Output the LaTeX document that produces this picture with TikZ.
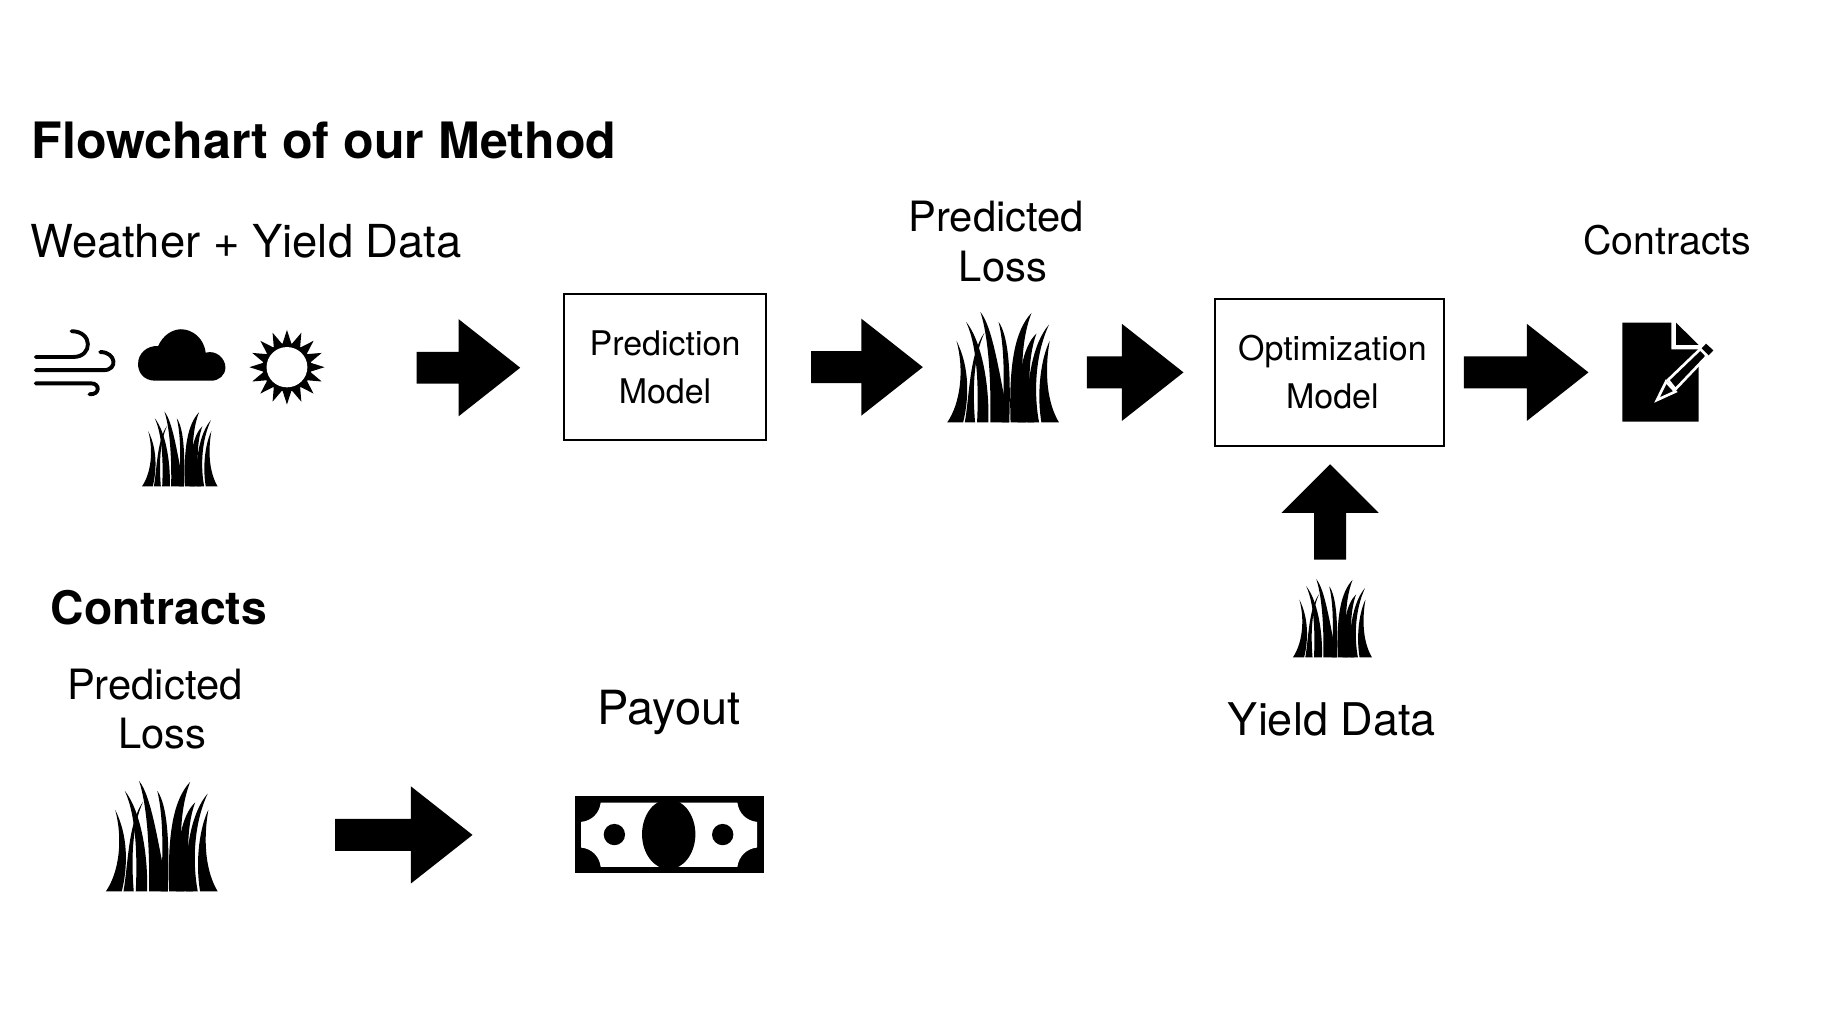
\documentclass[tikz,border=0pt]{standalone}
\usepackage{fontspec}
\setmainfont{TeX Gyre Heros}
\usepackage{tikz}
\usetikzlibrary{shapes.arrows}
\tikzstyle{bigarrow} = [single arrow,fill=black,inner sep=0pt,outer sep=0pt,anchor=tail,text height=.26cm,text depth=0pt,text width=0pt,minimum width=.82cm,single arrow head extend=.28cm,single arrow tip angle=76.5]
\tikzstyle{modelbox} = [draw=black,line width=.45pt,align=center,inner sep=0pt,font=\fontsize{8.3}{11.7}\selectfont]
\tikzstyle{label} = [anchor=base,inner sep=0pt]
\tikzset{
	pics/grass/.style={code={
		\fill (0,0) .. controls (40,-58) and (52,-158) .. (28,-246) .. controls (67,-168) and (67,-78) .. (48,0) -- cycle;
		\fill (112,-270) .. controls (67,-208) and (67,-78) .. (53,0) -- (84,0) .. controls (76,-98) and (79,-198) .. (112,-270) -- cycle;
		\fill (57,-303) .. controls (102,-248) and (128,-118) .. (124,0) -- (90,0) .. controls (95,-98) and (92,-228) .. (57,-303) -- cycle;
		\fill (100,-333) .. controls (137,-288) and (157,-148) .. (187,0) -- (130,0) .. controls (132,-98) and (128,-248) .. (100,-333) -- cycle;
		\fill (155,-303) .. controls (187,-258) and (192,-138) .. (187,0) -- (165,0) .. controls (172,-98) and (175,-220) .. (155,-303) -- cycle;
		\fill (254,-330) .. controls (205,-278) and (185,-178) .. (191,0) -- (237,0) .. controls (225,-98) and (215,-228) .. (254,-330) -- cycle;
		\fill (269,-268) .. controls (227,-228) and (212,-138) .. (212,0) -- (262,0) .. controls (245,-78) and (240,-188) .. (269,-268) -- cycle;
		\fill (307,-295) .. controls (257,-238) and (237,-118) .. (242,0) -- (277,0) .. controls (262,-78) and (262,-198) .. (307,-295) -- cycle;
		\fill (309,-246) .. controls (285,-198) and (268,-98) .. (284,0) -- (337,0) .. controls (302,-58) and (292,-148) .. (309,-246) -- cycle;
	}}
}
\begin{document}
\begin{tikzpicture}[x=0.01cm,y=-0.01cm]
	\useasboundingbox (0,0) rectangle (1567.5,871.4);

	% Headings and labels:
	\node [label,anchor=base west,font=\fontsize{12.25}{14}\selectfont\bfseries] (title) at (26.5,136.5) {Flowchart of our Method};
	\node [label,anchor=base west,font=\fontsize{11.1}{14}\selectfont] (inputs) at (25.5,221.5) {Weather + Yield Data};
	\node [label,font=\fontsize{10.2}{12}\selectfont] (predA) at (856,199) {Predicted};
	\node [label,font=\fontsize{10.2}{12}\selectfont] (lossA) at (862,241.5) {Loss};
	\node [label,font=\fontsize{9.6}{12}\selectfont] (contractsA) at (1433,219) {Contracts};
	\node [label,font=\fontsize{11.3}{14}\selectfont\bfseries] (contractsB) at (136.5,536.5) {Contracts};
	\node [label,font=\fontsize{10.2}{12}\selectfont] (predB) at (133,601) {Predicted};
	\node [label,font=\fontsize{10.2}{12}\selectfont] (lossB) at (139.5,643) {Loss};
	\node [label,font=\fontsize{11.5}{14}\selectfont] (payout) at (575,623) {Payout};
	\node [label,font=\fontsize{11}{14}\selectfont] (yield) at (1144.5,632) {Yield Data};

	% Models:
	\node [modelbox,minimum width=1.73cm,minimum height=1.25cm] (prediction) at (571.5,315.5) {Prediction\\Model};
	\node [modelbox,minimum width=1.97cm,minimum height=1.26cm] (optimization) at (1142.5,320) {\hspace*{.05cm}Optimization\\\hspace*{.05cm}Model};

	% Arrows:
	\node [bigarrow,minimum height=.89cm] (arrowA) at (358,316) {};
	\node [bigarrow,minimum height=.96cm] (arrowB) at (697,315.5) {};
	\node [bigarrow,minimum height=.83cm] (arrowC) at (934,320) {};
	\node [bigarrow,minimum height=1.07cm] (arrowD) at (1258,320) {};
	\node [bigarrow,minimum height=.82cm,shape border rotate=90,single arrow tip angle=90,text height=0pt,text width=.26cm] (arrowE) at (1143,481) {};
	\node [bigarrow,minimum height=1.18cm,minimum width=.81cm,single arrow tip angle=76.5] (arrowF) at (288,717.5) {};

	% Grass:
	\pic [scale=.193] at (122,418) {grass};
	\pic [scale=.285] at (814,363) {grass};
	\pic [scale=.202] at (1111,565) {grass};
	\pic [scale=.285] at (91,766) {grass};

	% Wind, cloud and sun:
	\begin{scope}[shift={(0,241.5)},xscale=.3075,yscale=.2837]
		\draw [line width=.95pt,line cap=round] (100,230) -- (205,230) .. controls (260,230) and (260,152) .. (200,152);
		\draw [line width=.95pt,line cap=round] (100,270) -- (290,270) .. controls (330,270) and (325,215) .. (280,215);
		\draw [line width=.95pt,line cap=round] (100,310) -- (255,310) .. controls (280,310) and (280,345) .. (250,343);
		\fill (435,302) .. controls (400,302) and (385,275) .. (386,250) .. controls (386,220) and (410,195) .. (442,197) .. controls (455,165) and (480,147) .. (505,146) .. controls (540,146) and (570,175) .. (575,217) .. controls (605,208) and (630,235) .. (630,262) .. controls (630,285) and (612,302) .. (590,302) -- cycle;
		\begin{scope}[shift={(802,261)}]
			\fill (0,0) ellipse (68 and 73);
			\foreach \a in {0,22.5,...,337.5}
			{
				\fill (\a:105 and 113) -- (\a+11.25:66 and 71) -- (\a-11.25:66 and 71) -- cycle;
			}
			\fill [white] (0,0) ellipse (57 and 61);
		\end{scope}
	\end{scope}

	% Document with pencil:
	\begin{scope}[shift={(1375.3,257.8)},scale=.2864]
		\fill (66,68) -- (213,68) -- (213,148) -- (295,148) -- (295,365) -- (66,365) -- cycle;
		\fill (227,68) -- (295,135) -- (227,135) -- cycle;
		\draw [white,line width=.65pt,fill=black] (170,300) -- (197,245) -- (225,275) -- cycle;
		\draw [white,line width=.65pt,fill=black] (203,240) -- (300,147) -- (320,168) -- (225,268) -- cycle;
		\fill (317,131) -- (339,151) -- (325,166) -- (304,145) -- cycle;
	\end{scope}

	% Banknote:
	\begin{scope}[shift={(481.3,661.9)},scale=.2864]
		\fill (45,78) rectangle (611,308);
		\fill [white] (122,97) -- (532,97) .. controls (536,130) and (560,152) .. (591,155) -- (591,232) .. controls (560,235) and (536,258) .. (532,290) -- (122,290) .. controls (118,258) and (95,235) .. (63,232) -- (63,155) .. controls (95,152) and (118,130) .. (122,97) -- cycle;
		\fill (326,192) ellipse (80 and 105);
		\fill (163,193) circle (32);
		\fill (488,193) circle (32);
	\end{scope}
\end{tikzpicture}
\end{document}
